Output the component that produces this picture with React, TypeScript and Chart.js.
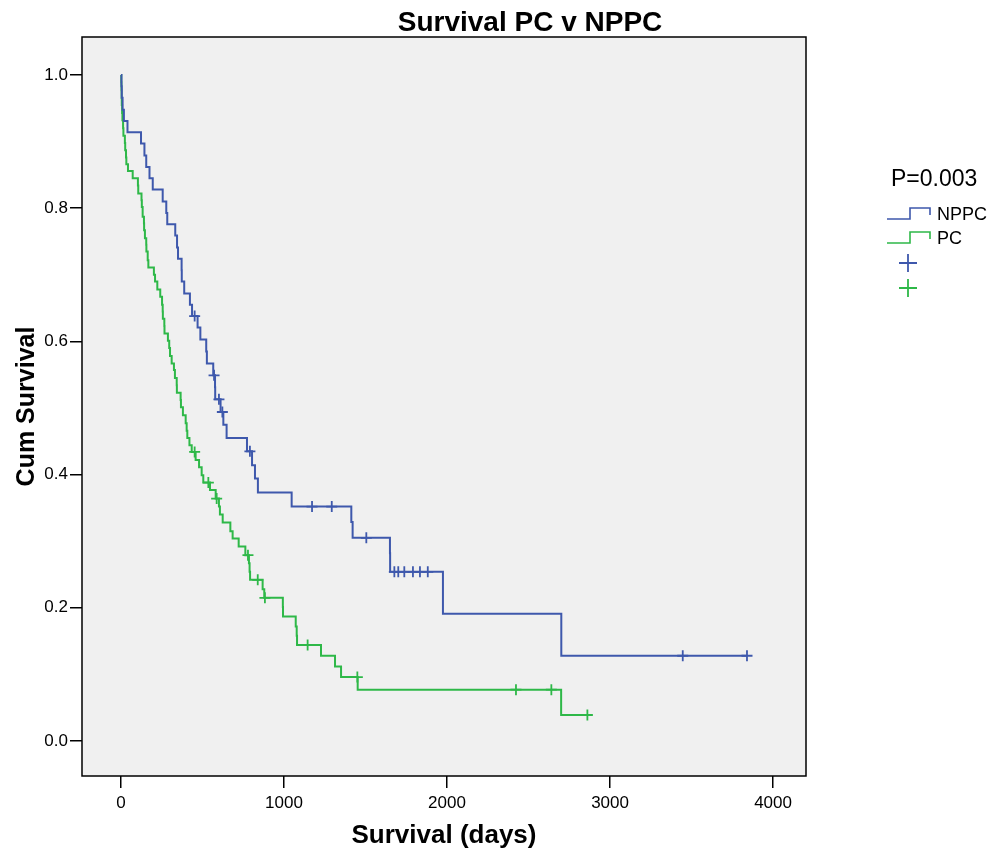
import React, { useEffect, useRef } from 'react';
import { Chart, registerables } from 'chart.js';

Chart.register(...registerables);

// ---- Data ----
const chartTitle = 'Survival PC v NPPC';
const xAxisTitle = 'Survival (days)';
const yAxisTitle = 'Cum Survival';
const pValueLabel = 'P=0.003';
const seriesNames = ['NPPC', 'PC'];

const xTicks = [0, 1000, 2000, 3000, 4000];
const yTicks = [0, 0.2, 0.4, 0.6, 0.8, 1.0];

// NPPC survival steps (time in days, cumulative survival after the event)
const nppcTimes = [0, 3, 5, 10, 18, 40, 123, 144, 155, 175, 195, 256, 278, 284, 333, 344, 350, 372, 373, 388, 423, 436, 470, 487, 523, 527, 566, 577, 578, 611, 628, 648, 773, 804, 822, 840, 1047, 1413, 1421, 1650, 1651, 1975, 2701, 3840];
const nppcSurv = [1.0, 0.983, 0.966, 0.948, 0.931, 0.914, 0.897, 0.879, 0.862, 0.845, 0.828, 0.810, 0.793, 0.776, 0.759, 0.741, 0.724, 0.707, 0.690, 0.672, 0.655, 0.638, 0.621, 0.603, 0.585, 0.567, 0.549, 0.531, 0.513, 0.494, 0.475, 0.455, 0.435, 0.414, 0.394, 0.373, 0.352, 0.329, 0.305, 0.282, 0.254, 0.191, 0.128, 0.128];
const nppcCensorTimes = [452, 571, 601, 622, 791, 1172, 1293, 1505, 1677, 1701, 1738, 1791, 1834, 1882, 3446, 3840];
const nppcCensorSurv = [0.638, 0.549, 0.513, 0.494, 0.435, 0.352, 0.352, 0.305, 0.254, 0.254, 0.254, 0.254, 0.254, 0.254, 0.128, 0.128];

// PC survival steps
const pcTimes = [0, 2, 3, 4, 5, 7, 9, 13, 15, 24, 26, 31, 33, 43, 72, 104, 106, 126, 128, 133, 141, 142, 147, 155, 156, 164, 168, 202, 209, 223, 241, 252, 256, 257, 266, 267, 288, 296, 301, 311, 325, 331, 342, 343, 366, 368, 380, 397, 403, 407, 420, 434, 458, 479, 495, 505, 546, 581, 601, 607, 624, 671, 685, 722, 763, 785, 789, 792, 869, 879, 993, 994, 1072, 1078, 1080, 1227, 1313, 1350, 1452, 2700, 2861];
const pcSurv = [1.0, 0.989, 0.977, 0.966, 0.955, 0.943, 0.932, 0.920, 0.909, 0.898, 0.887, 0.876, 0.866, 0.856, 0.845, 0.834, 0.822, 0.812, 0.802, 0.787, 0.777, 0.767, 0.755, 0.745, 0.735, 0.722, 0.711, 0.700, 0.690, 0.678, 0.667, 0.655, 0.645, 0.634, 0.623, 0.612, 0.601, 0.590, 0.578, 0.567, 0.557, 0.545, 0.534, 0.523, 0.512, 0.501, 0.489, 0.477, 0.466, 0.455, 0.444, 0.434, 0.422, 0.411, 0.399, 0.388, 0.377, 0.364, 0.352, 0.340, 0.328, 0.315, 0.304, 0.292, 0.279, 0.267, 0.254, 0.242, 0.228, 0.215, 0.201, 0.187, 0.172, 0.158, 0.144, 0.128, 0.112, 0.096, 0.077, 0.039, 0.039];
const pcCensorTimes = [452, 536, 587, 779, 839, 883, 1145, 1450, 2423, 2640, 2861];
const pcCensorSurv = [0.434, 0.388, 0.364, 0.279, 0.242, 0.215, 0.144, 0.096, 0.077, 0.077, 0.039];

// ---- Styling ----
const BLUE = '#3E58AC';
const GREEN = '#2EB848';
const PLOT_BG = '#f0f0f0';
const FONT = '"Liberation Sans", Arial, Helvetica, sans-serif';

const toPoints = (xs: number[], ys: number[]) => xs.map((x, i) => ({ x, y: ys[i] }));

const decorPlugin = {
  id: 'kmDecor',
  beforeDraw(chart: any) {
    const { ctx, chartArea: a } = chart;
    ctx.save();
    ctx.fillStyle = '#ffffff';
    ctx.fillRect(0, 0, chart.width, chart.height);
    ctx.fillStyle = PLOT_BG;
    ctx.fillRect(a.left, a.top, a.right - a.left, a.bottom - a.top);
    ctx.restore();
  },
  afterDraw(chart: any) {
    const { ctx, chartArea: a } = chart;
    ctx.save();
    // frame
    ctx.strokeStyle = '#000';
    ctx.lineWidth = 1.5;
    ctx.strokeRect(a.left, a.top, a.right - a.left, a.bottom - a.top);

    // title
    ctx.fillStyle = '#000';
    ctx.font = `bold 28px ${FONT}`;
    ctx.textAlign = 'center';
    ctx.textBaseline = 'middle';
    ctx.fillText(chartTitle, 530, 23);

    // legend
    const lx = a.right + 81;
    ctx.textAlign = 'left';
    ctx.textBaseline = 'alphabetic';
    ctx.font = `23px ${FONT}`;
    ctx.fillText(pValueLabel, lx + 4, 186);

    const colors = [BLUE, GREEN];
    ctx.lineWidth = 1.6;
    ctx.font = `18px ${FONT}`;
    for (let i = 0; i < 2; i++) {
      const low = 219 + i * 24;
      const high = low - 11;
      ctx.strokeStyle = colors[i];
      ctx.beginPath();
      ctx.moveTo(lx, low);
      ctx.lineTo(lx + 23, low);
      ctx.lineTo(lx + 23, high);
      ctx.lineTo(lx + 43, high);
      ctx.lineTo(lx + 43, high + 7);
      ctx.stroke();
      ctx.fillStyle = '#000';
      ctx.fillText(seriesNames[i], lx + 50, low + 1);
    }
    ctx.lineWidth = 1.8;
    for (let i = 0; i < 2; i++) {
      const cx = lx + 21;
      const cy = 263 + i * 25;
      ctx.strokeStyle = colors[i];
      ctx.beginPath();
      ctx.moveTo(cx - 9, cy);
      ctx.lineTo(cx + 9, cy);
      ctx.moveTo(cx, cy - 9);
      ctx.lineTo(cx, cy + 9);
      ctx.stroke();
    }
    ctx.restore();
  },
};

export default function App() {
  const ref = useRef<HTMLCanvasElement>(null);

  useEffect(() => {
    if (!ref.current) return;
    Chart.defaults.font.family = FONT;
    const chart = new Chart(ref.current, {
      type: 'line',
      data: {
        datasets: [
          {
            label: seriesNames[0],
            data: toPoints(nppcTimes, nppcSurv),
            borderColor: BLUE,
            borderWidth: 2,
            stepped: true,
            pointRadius: 0,
            pointHitRadius: 0,
            fill: false,
          },
          {
            label: seriesNames[1],
            data: toPoints(pcTimes, pcSurv),
            borderColor: GREEN,
            borderWidth: 2,
            stepped: true,
            pointRadius: 0,
            pointHitRadius: 0,
            fill: false,
          },
          {
            label: seriesNames[0] + ' censored',
            data: toPoints(nppcCensorTimes, nppcCensorSurv),
            showLine: false,
            borderColor: BLUE,
            pointStyle: 'cross',
            pointRadius: 5.5,
            pointBorderWidth: 1.8,
            pointBorderColor: BLUE,
          },
          {
            label: seriesNames[1] + ' censored',
            data: toPoints(pcCensorTimes, pcCensorSurv),
            showLine: false,
            borderColor: GREEN,
            pointStyle: 'cross',
            pointRadius: 5.5,
            pointBorderWidth: 1.8,
            pointBorderColor: GREEN,
          },
        ],
      },
      options: {
        responsive: false,
        animation: false,
        devicePixelRatio: 1,
        layout: { padding: { top: 37, right: 186, left: 0, bottom: 0 } },
        plugins: {
          legend: { display: false },
          tooltip: { enabled: false },
          title: { display: false },
        },
        scales: {
          x: {
            type: 'linear',
            min: -239,
            max: 4202,
            afterFit: (s: any) => { s.height = 75; },
            afterBuildTicks: (s: any) => { s.ticks = xTicks.map((v) => ({ value: v })); },
            ticks: {
              color: '#000',
              font: { size: 17 },
              padding: 5,
              maxRotation: 0,
              autoSkip: false,
              callback: (v: any) => String(v),
            },
            grid: {
              display: true,
              drawOnChartArea: false,
              drawTicks: true,
              tickLength: 12,
              color: '#000',
              lineWidth: 1.5,
            },
            border: { display: false },
            title: {
              display: true,
              text: xAxisTitle,
              color: '#000',
              font: { size: 26, weight: 'bold', lineHeight: 1.2 },
              padding: { top: 0, bottom: 0 },
            },
          },
          y: {
            type: 'linear',
            min: -0.0526,
            max: 1.0571,
            afterFit: (s: any) => { s.width = 82; },
            afterBuildTicks: (s: any) => { s.ticks = yTicks.map((v) => ({ value: v })); },
            ticks: {
              color: '#000',
              font: { size: 17 },
              padding: 2,
              autoSkip: false,
              callback: (v: any) => Number(v).toFixed(1),
            },
            grid: {
              display: true,
              drawOnChartArea: false,
              drawTicks: true,
              tickLength: 12,
              color: '#000',
              lineWidth: 1.5,
            },
            border: { display: false },
            title: {
              display: true,
              text: yAxisTitle,
              color: '#000',
              font: { size: 25, weight: 'bold', lineHeight: 1.2 },
              padding: { top: 12, bottom: 0 },
            },
          },
        },
      },
      plugins: [decorPlugin],
    } as any);
    return () => chart.destroy();
  }, []);

  return (
    <div style={{ position: 'fixed', left: 0, top: 0, width: 992, height: 851, background: '#fff' }}>
      <canvas ref={ref} width={992} height={851} style={{ display: 'block', width: 992, height: 851 }} />
    </div>
  );
}
